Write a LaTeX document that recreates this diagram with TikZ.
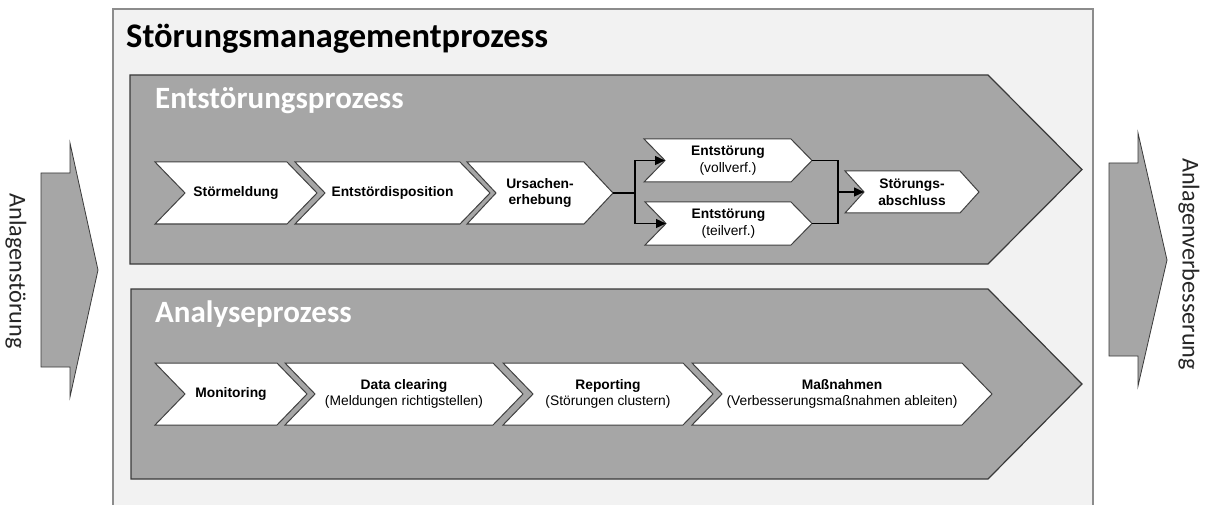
\documentclass[tikz,border=0pt]{standalone}
\usepackage{fontspec}
\setmainfont{Liberation Sans}
\newfontfamily\calfont{Carlito}
\usetikzlibrary{arrows.meta}
\definecolor{outerfill}{HTML}{F2F2F2}
\definecolor{outerline}{HTML}{8C8C8C}
\definecolor{procfill}{HTML}{A6A6A6}
\definecolor{procline}{HTML}{3A3A3A}
\definecolor{chevline}{HTML}{404040}
\definecolor{txtdark}{HTML}{262626}
\tikzset{
  outerbox/.style={fill=outerfill},
  outerborder/.style={draw=outerline,line width=1.6pt},
  procshape/.style={fill=procfill,draw=procline,line width=1.2pt,line join=miter},
  sideshape/.style={fill=procfill,draw=procline,line width=0.8pt,line join=miter},
  chevstyle/.style={fill=white,draw=chevline,line width=1pt,line join=miter},
  chevtext/.style={inner sep=0pt,align=center,text=black,font=\fontsize{13.8}{16.8}\selectfont},
  maintitle/.style={inner sep=0pt,anchor=base west,text=black,font=\calfont\bfseries\fontsize{34.5}{38}\selectfont},
  proctitle/.style={inner sep=0pt,anchor=base west,text=white,font=\calfont\bfseries\fontsize{31}{35}\selectfont},
  sidetext/.style={inner sep=0pt,rotate=-90,text=txtdark,font=\calfont\fontsize{24.2}{27}\selectfont},
  conn/.style={draw=black,line width=1.3pt},
  connarrow/.style={conn,-{Triangle[length=10pt,width=9pt]}},
}
% #1 name, #2 left x, #3 right (top corner) x, #4 top y, #5 bottom y, #6 depth, #7 text
\newcommand\chev[7]{%
  \path[chevstyle] (#2,#4) -- (#3,#4) -- ({#3+#6},{(#4+#5)/2}) -- (#3,#5) -- (#2,#5) -- ({#2+#6},{(#4+#5)/2}) -- cycle;
  \node[chevtext] (#1) at ({(#2+#6+#3)/2},{(#4+#5)/2}) {#7};
  \coordinate (#1-tip) at ({#3+#6},{(#4+#5)/2});
  \coordinate (#1-notch) at ({#2+#6},{(#4+#5)/2});
}
\begin{document}
\begin{tikzpicture}[x=1pt,y=-1pt]
\useasboundingbox (0,0) rectangle (1207,505);
\fill[white] (0,0) rectangle (1207,505);
% outer box
\path[outerbox] (113,9) rectangle (1093,506);
\draw[outerborder] (113,506) -- (113,9) -- (1093,9) -- (1093,506);
\node[maintitle] (title) at (126,48) {Störungsmanagementprozess};
% process arrows
\path[procshape] (130,75) -- (988,75) -- (1082,169.5) -- (988,264) -- (130,264) -- cycle;
\node[proctitle] (entst) at (155,109) {Entstörungsprozess};
\path[procshape] (131,289) -- (988,289) -- (1082,384) -- (988,479) -- (131,479) -- cycle;
\node[proctitle] (analyse) at (155,322) {Analyseprozess};
% side arrows
\path[sideshape] (41,173) -- (70,173) -- (70,143) -- (98,270) -- (70,397) -- (70,367) -- (41,367) -- cycle;
\node[sidetext] (inlabel) at (16,271) {Anlagenstörung};
\path[sideshape] (1109,163) -- (1138,163) -- (1138,133) -- (1167,260) -- (1138,386) -- (1138,356) -- (1109,356) -- cycle;
\node[sidetext] (outlabel) at (1189,264) {Anlagenverbesserung};
% row 1
\chev{c1}{155}{287}{162}{224}{30}{\bfseries Störmeldung}
\chev{c2}{295}{460}{162}{224}{30}{\bfseries Entstördisposition}
\chev{c3}{467}{584}{162}{224}{29}{\bfseries Ursachen-\\\bfseries erhebung}
\chev{c4}{644}{791}{139}{182}{21}{\bfseries Entstörung\\(vollverf.)}
\chev{c5}{645}{791}{202}{245}{21}{\bfseries Entstörung\\(teilverf.)}
\chev{c6}{845}{960}{171}{213}{19}{\bfseries Störungs-\\\bfseries abschluss}
% row 2
\chev{m1}{155}{277}{363}{425}{30}{\bfseries Monitoring}
\chev{m2}{285}{493}{363}{425}{30}{\bfseries Data clearing\\(Meldungen richtigstellen)}
\chev{m3}{503}{683}{363}{425}{30}{\bfseries Reporting\\(Störungen clustern)}
\chev{m4}{692}{962}{363}{425}{30}{\bfseries Maßnahmen\\(Verbesserungsmaßnahmen ableiten)}
% connectors
\coordinate (j1) at (635,193);
\coordinate (j2) at (838,192);
\draw[conn] (c3-tip) -- (j1);
\draw[connarrow] (j1) |- (c4-notch);
\draw[connarrow] (j1) |- (c5-notch);
\draw[conn] (c4-tip) -| (j2);
\draw[conn] (c5-tip) -| (j2);
\draw[connarrow] (j2) -- (c6-notch);
\end{tikzpicture}
\end{document}
